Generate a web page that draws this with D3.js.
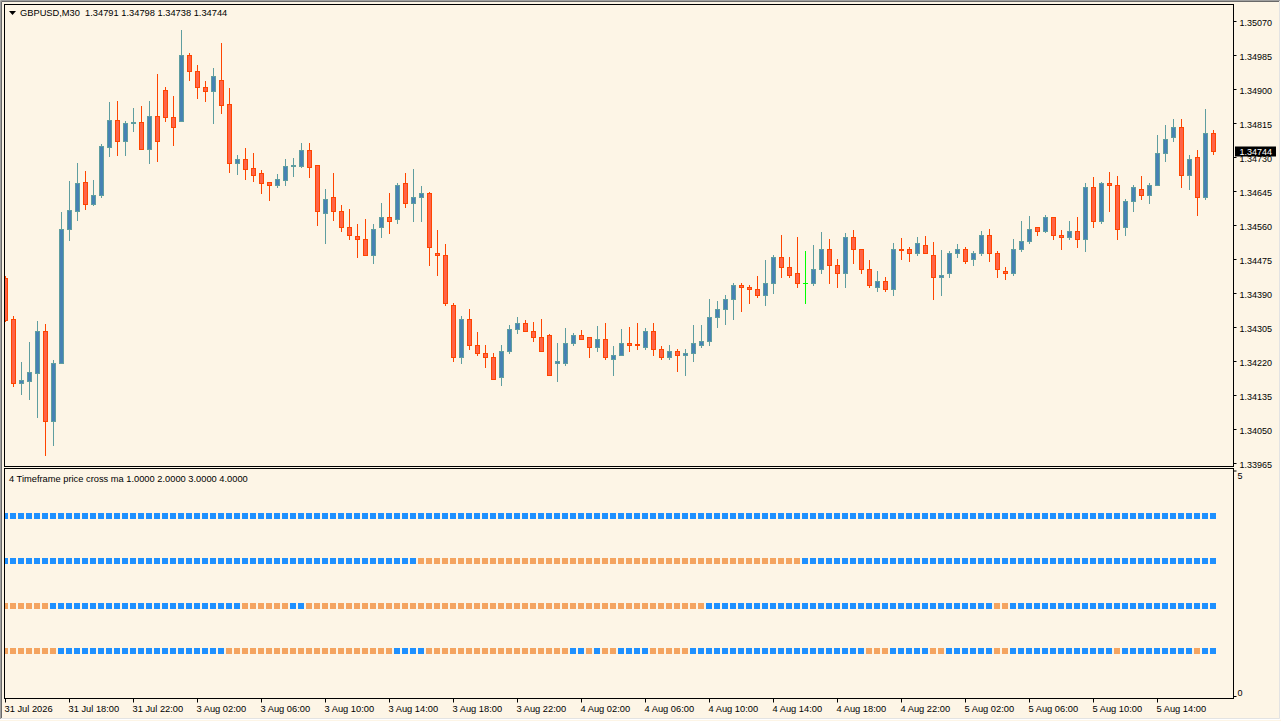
<!DOCTYPE html>
<html>
<head>
<meta charset="utf-8">
<script src="https://cdn.jsdelivr.net/npm/d3@7"></script>
<style>
  html, body { margin: 0; padding: 0; background: #fdf5e6; overflow: hidden; }
  svg { display: block; font-family: 'Liberation Sans', Arial, sans-serif; font-size: 9.3px; }
</style>
</head>
<body>
<svg id="chart" width="1281" height="721"></svg>
<script>
// GBPUSD M30 candles + "4 Timeframe price cross ma" sub window
const symbol = 'GBPUSD,M30';

const open = [
  1.34428, 1.34325, 1.34164, 1.34169, 1.34191, 1.34295, 1.34069, 1.34214,
  1.34550, 1.34596, 1.34668, 1.34613, 1.34634, 1.34756, 1.34823, 1.34769,
  1.34814, 1.34818, 1.34749, 1.34833, 1.34898, 1.34830, 1.34821, 1.34985,
  1.34945, 1.34905, 1.34896, 1.34923, 1.34863, 1.34714, 1.34725, 1.34703,
  1.34690, 1.34668, 1.34661, 1.34673, 1.34709, 1.34708, 1.34748, 1.34710,
  1.34591, 1.34629, 1.34594, 1.34556, 1.34533, 1.34526, 1.34484, 1.34554,
  1.34579, 1.34574, 1.34664, 1.34614, 1.34629, 1.34639, 1.34491, 1.34486,
  1.34361, 1.34231, 1.34326, 1.34259, 1.34241, 1.34229, 1.34179, 1.34246,
  1.34299, 1.34314, 1.34294, 1.34279, 1.34286, 1.34214, 1.34214, 1.34264,
  1.34284, 1.34279, 1.34254, 1.34274, 1.34226, 1.34236, 1.34264, 1.34263,
  1.34256, 1.34294, 1.34249, 1.34231, 1.34246, 1.34236, 1.34239, 1.34261,
  1.34269, 1.34329, 1.34349, 1.34374, 1.34409, 1.34406, 1.34401, 1.34384,
  1.34414, 1.34481, 1.34454, 1.34439, 1.34414, 1.34414, 1.34449, 1.34501,
  1.34459, 1.34441, 1.34529, 1.34499, 1.34449, 1.34406, 1.34419, 1.34399,
  1.34501, 1.34499, 1.34489, 1.34509, 1.34486, 1.34429, 1.34439, 1.34491,
  1.34499, 1.34474, 1.34491, 1.34536, 1.34491, 1.34446, 1.34441, 1.34499,
  1.34519, 1.34554, 1.34544, 1.34579, 1.34534, 1.34529, 1.34544, 1.34524,
  1.34656, 1.34569, 1.34665, 1.34659, 1.34554, 1.34619, 1.34651, 1.34634,
  1.34659, 1.34741, 1.34779, 1.34804, 1.34684, 1.34729, 1.34629, 1.34791
];
const high = [
  1.34433, 1.34333, 1.34218, 1.34268, 1.34320, 1.34313, 1.34223, 1.34593,
  1.34670, 1.34715, 1.34695, 1.34673, 1.34763, 1.34868, 1.34871, 1.34820,
  1.34853, 1.34858, 1.34870, 1.34938, 1.34904, 1.34883, 1.35048, 1.34990,
  1.34960, 1.34920, 1.34953, 1.35016, 1.34903, 1.34735, 1.34753, 1.34740,
  1.34698, 1.34668, 1.34688, 1.34726, 1.34728, 1.34765, 1.34765, 1.34711,
  1.34650, 1.34690, 1.34610, 1.34600, 1.34563, 1.34575, 1.34563, 1.34615,
  1.34640, 1.34664, 1.34690, 1.34700, 1.34658, 1.34643, 1.34548, 1.34513,
  1.34365, 1.34333, 1.34350, 1.34293, 1.34260, 1.34241, 1.34260, 1.34310,
  1.34330, 1.34323, 1.34318, 1.34325, 1.34287, 1.34265, 1.34303, 1.34289,
  1.34298, 1.34281, 1.34308, 1.34315, 1.34258, 1.34300, 1.34305, 1.34315,
  1.34303, 1.34315, 1.34258, 1.34260, 1.34249, 1.34251, 1.34311, 1.34309,
  1.34375, 1.34371, 1.34386, 1.34414, 1.34414, 1.34411, 1.34433, 1.34473,
  1.34485, 1.34535, 1.34480, 1.34530, 1.34495, 1.34510, 1.34543, 1.34525,
  1.34475, 1.34540, 1.34548, 1.34500, 1.34473, 1.34445, 1.34429, 1.34515,
  1.34528, 1.34505, 1.34530, 1.34533, 1.34518, 1.34498, 1.34496, 1.34513,
  1.34505, 1.34496, 1.34545, 1.34550, 1.34496, 1.34454, 1.34525, 1.34570,
  1.34583, 1.34555, 1.34585, 1.34581, 1.34548, 1.34570, 1.34580, 1.34664,
  1.34680, 1.34668, 1.34693, 1.34683, 1.34626, 1.34661, 1.34683, 1.34666,
  1.34784, 1.34811, 1.34825, 1.34825, 1.34735, 1.34748, 1.34850, 1.34798
];
const low = [
  1.34320, 1.34158, 1.34138, 1.34126, 1.34081, 1.33985, 1.34010, 1.34214,
  1.34523, 1.34573, 1.34600, 1.34610, 1.34631, 1.34733, 1.34734, 1.34736,
  1.34796, 1.34749, 1.34714, 1.34721, 1.34819, 1.34761, 1.34819, 1.34923,
  1.34878, 1.34869, 1.34815, 1.34841, 1.34693, 1.34688, 1.34675, 1.34670,
  1.34641, 1.34623, 1.34656, 1.34660, 1.34683, 1.34705, 1.34680, 1.34560,
  1.34516, 1.34573, 1.34546, 1.34524, 1.34479, 1.34484, 1.34464, 1.34531,
  1.34541, 1.34564, 1.34606, 1.34571, 1.34569, 1.34461, 1.34434, 1.34361,
  1.34221, 1.34214, 1.34251, 1.34236, 1.34204, 1.34174, 1.34161, 1.34239,
  1.34291, 1.34294, 1.34271, 1.34244, 1.34184, 1.34171, 1.34209, 1.34261,
  1.34274, 1.34229, 1.34244, 1.34224, 1.34186, 1.34236, 1.34244, 1.34251,
  1.34251, 1.34236, 1.34224, 1.34224, 1.34196, 1.34184, 1.34219, 1.34254,
  1.34259, 1.34306, 1.34313, 1.34326, 1.34346, 1.34364, 1.34379, 1.34360,
  1.34389, 1.34431, 1.34431, 1.34404, 1.34364, 1.34411, 1.34441, 1.34414,
  1.34406, 1.34406, 1.34466, 1.34441, 1.34406, 1.34394, 1.34394, 1.34384,
  1.34476, 1.34471, 1.34486, 1.34489, 1.34374, 1.34386, 1.34429, 1.34481,
  1.34466, 1.34461, 1.34484, 1.34471, 1.34431, 1.34424, 1.34436, 1.34494,
  1.34516, 1.34534, 1.34543, 1.34524, 1.34499, 1.34524, 1.34504, 1.34496,
  1.34556, 1.34564, 1.34594, 1.34524, 1.34534, 1.34596, 1.34624, 1.34616,
  1.34659, 1.34721, 1.34769, 1.34656, 1.34649, 1.34584, 1.34626, 1.34738
];
const close = [
  1.34323, 1.34165, 1.34173, 1.34193, 1.34295, 1.34069, 1.34214, 1.34550,
  1.34598, 1.34665, 1.34613, 1.34635, 1.34758, 1.34823, 1.34769, 1.34815,
  1.34818, 1.34749, 1.34833, 1.34769, 1.34829, 1.34806, 1.34985, 1.34944,
  1.34904, 1.34896, 1.34933, 1.34861, 1.34714, 1.34725, 1.34701, 1.34686,
  1.34666, 1.34661, 1.34675, 1.34708, 1.34710, 1.34748, 1.34706, 1.34594,
  1.34626, 1.34596, 1.34554, 1.34534, 1.34526, 1.34484, 1.34551, 1.34581,
  1.34571, 1.34661, 1.34614, 1.34629, 1.34641, 1.34506, 1.34486, 1.34364,
  1.34231, 1.34324, 1.34259, 1.34239, 1.34229, 1.34176, 1.34246, 1.34299,
  1.34316, 1.34294, 1.34279, 1.34244, 1.34186, 1.34219, 1.34266, 1.34284,
  1.34276, 1.34254, 1.34274, 1.34229, 1.34236, 1.34264, 1.34261, 1.34259,
  1.34294, 1.34249, 1.34231, 1.34246, 1.34236, 1.34239, 1.34264, 1.34269,
  1.34329, 1.34349, 1.34376, 1.34409, 1.34406, 1.34401, 1.34384, 1.34414,
  1.34481, 1.34454, 1.34436, 1.34414, 1.34414, 1.34451, 1.34501, 1.34459,
  1.34441, 1.34529, 1.34499, 1.34449, 1.34409, 1.34419, 1.34399, 1.34501,
  1.34499, 1.34489, 1.34514, 1.34491, 1.34431, 1.34436, 1.34491, 1.34499,
  1.34471, 1.34489, 1.34536, 1.34491, 1.34449, 1.34441, 1.34499, 1.34519,
  1.34551, 1.34544, 1.34579, 1.34534, 1.34529, 1.34544, 1.34524, 1.34656,
  1.34569, 1.34665, 1.34661, 1.34551, 1.34619, 1.34654, 1.34634, 1.34659,
  1.34739, 1.34776, 1.34804, 1.34684, 1.34726, 1.34629, 1.34789, 1.34744
];

// sub window: 1 = price above ma (blue), 0 = below (orange); tfN drawn at level N
const tf1 = [
  0,0,0,0,0,0,0,1, 1,1,1,1,1,1,1,1, 1,1,1,1,1,1,1,1, 1,1,1,1,0,0,0,0,
  0,0,0,0,0,0,0,0, 0,0,0,0,0,0,0,0, 0,1,1,1,1,0,0,0, 0,0,0,0,0,0,0,0,
  0,0,0,0,0,0,0,1, 1,0,1,0,0,1,1,1, 1,0,0,0,0,0,1,1, 1,1,1,1,1,1,1,1,
  1,1,1,1,1,1,1,1, 1,1,1,1,0,0,0,1, 1,1,1,1,0,0,1,1, 1,1,1,1,0,0,1,1,
  1,1,1,1,1,1,1,1, 1,1,1,0,1,1,1,1, 1,1,1,1,1,0,1,1
];
const tf2 = [
  0,0,0,0,0,0,1,1, 1,1,1,1,1,1,1,1, 1,1,1,1,1,1,1,1, 1,1,1,1,1,1,0,0,
  0,0,0,0,1,1,0,0, 0,0,0,0,0,0,0,0, 0,0,0,0,0,0,0,0, 0,0,0,0,0,0,0,0,
  0,0,0,0,0,0,0,0, 0,0,0,0,0,0,0,0, 0,0,0,0,0,0,0,0, 1,1,1,1,1,1,1,1,
  1,1,1,1,1,1,1,1, 1,1,1,1,1,1,1,1, 1,1,1,1,1,1,1,1, 1,1,1,1,0,0,1,1,
  1,1,1,1,1,1,1,1, 1,1,1,1,1,1,1,1, 1,1,1,1,1,1,1,1
];
const tf3 = [
  1,1,1,1,1,1,1,1, 1,1,1,1,1,1,1,1, 1,1,1,1,1,1,1,1, 1,1,1,1,1,1,1,1,
  1,1,1,1,1,1,1,1, 1,1,1,1,1,1,1,1, 1,1,1,1,0,0,0,0, 0,0,0,0,0,0,0,0,
  0,0,0,0,0,0,0,0, 0,0,0,0,0,0,0,0, 0,0,0,0,0,0,0,0, 0,0,0,0,0,0,0,0,
  0,0,0,0,1,1,1,1, 1,1,1,1,1,1,1,1, 1,1,1,1,1,1,1,1, 1,1,1,1,1,1,1,1,
  1,1,1,1,1,1,1,1, 1,1,1,1,1,1,1,1, 1,1,1,1,1,1,1,1
];
const tf4 = [
  1,1,1,1,1,1,1,1, 1,1,1,1,1,1,1,1, 1,1,1,1,1,1,1,1, 1,1,1,1,1,1,1,1,
  1,1,1,1,1,1,1,1, 1,1,1,1,1,1,1,1, 1,1,1,1,1,1,1,1, 1,1,1,1,1,1,1,1,
  1,1,1,1,1,1,1,1, 1,1,1,1,1,1,1,1, 1,1,1,1,1,1,1,1, 1,1,1,1,1,1,1,1,
  1,1,1,1,1,1,1,1, 1,1,1,1,1,1,1,1, 1,1,1,1,1,1,1,1, 1,1,1,1,1,1,1,1,
  1,1,1,1,1,1,1,1, 1,1,1,1,1,1,1,1, 1,1,1,1,1,1,1,1
];

const priceTicks = [1.35070, 1.34985, 1.34900, 1.34815, 1.34730, 1.34645, 1.34560,
  1.34475, 1.34390, 1.34305, 1.34220, 1.34135, 1.34050, 1.33965];
const timeTickIdx = [0, 8, 16, 24, 32, 40, 48, 56, 64, 72, 80, 88, 96, 104, 112, 120, 128, 136, 144];
const timeLabels = ['31 Jul 2026', '31 Jul 18:00', '31 Jul 22:00', '3 Aug 02:00', '3 Aug 06:00',
  '3 Aug 10:00', '3 Aug 14:00', '3 Aug 18:00', '3 Aug 22:00', '4 Aug 02:00', '4 Aug 06:00',
  '4 Aug 10:00', '4 Aug 14:00', '4 Aug 18:00', '4 Aug 22:00', '5 Aug 02:00', '5 Aug 06:00',
  '5 Aug 10:00', '5 Aug 14:00'];
const subTitle = '4 Timeframe price cross ma 1.0000 2.0000 3.0000 4.0000';

const upFill = '#4682b4', upLine = '#5f9ea0',
  dnFill = '#ff6347', dnLine = '#ff4500',
  dojiCol = '#00ff00', maUp = '#1e90ff', maDn = '#f4a460';

const svg = d3.select('#chart');

// frames (pixel edges)
const L = 4.5, R = 1233.5, mainTop = 4.5, mainBot = 466.5, subTop = 468.5, subBot = 698.5;

const x = d3.scaleBand().domain(d3.range(open.length)).range([1.5, 1217.5]);
const cx = i => x(i) + x.bandwidth() / 2;
const y = d3.scaleLinear().domain([1.339575, 1.351125]).range([466, 4]);
const ys = d3.scaleLinear().domain([0, 5]).range([696, 470.5]);

const defs = svg.append('defs');
defs.append('clipPath').attr('id', 'clipMain').append('rect')
  .attr('x', 5).attr('y', 5).attr('width', R - 5.5).attr('height', mainBot - 5.5);
defs.append('clipPath').attr('id', 'clipSub').append('rect')
  .attr('x', 5).attr('y', subTop + 0.5).attr('width', R - 5.5).attr('height', subBot - subTop - 1);

// window edge
svg.append('rect').attr('width', 1281).attr('height', 721).attr('fill', '#fdf5e6');
svg.append('path').attr('d', 'M0.5,720V0.5H1280').attr('fill', 'none').attr('stroke', '#a0a0a0');
svg.append('path').attr('d', 'M1.5,719V1.5H1279').attr('fill', 'none').attr('stroke', '#696969');
svg.append('path').attr('d', 'M0,719.5H1280.5V0').attr('fill', 'none').attr('stroke', '#ffffff');
svg.append('path').attr('d', 'M1,718.5H1279.5V1').attr('fill', 'none').attr('stroke', '#e3e3e3');

// candles
const candles = d3.range(open.length).map(i => ({ i, o: open[i], h: high[i], l: low[i], c: close[i] }));
const lineCol = d => d.c > d.o ? upLine : (d.c < d.o ? dnLine : dojiCol);

const cg = svg.append('g').attr('clip-path', 'url(#clipMain)');
const cs = cg.selectAll('g.candle').data(candles).join('g').attr('class', 'candle');

cs.append('line')
  .attr('x1', d => cx(d.i)).attr('x2', d => cx(d.i))
  .attr('y1', d => Math.round(y(d.h)))
  .attr('y2', d => Math.round(y(d.l)) + 1)
  .attr('stroke', lineCol);

cs.filter(d => d.o !== d.c).append('rect')
  .attr('x', d => cx(d.i) - 2)
  .attr('width', 4)
  .attr('y', d => Math.round(y(Math.max(d.o, d.c))) + 0.5)
  .attr('height', d => Math.max(1, Math.round(y(Math.min(d.o, d.c))) - Math.round(y(Math.max(d.o, d.c)))))
  .attr('fill', d => d.c > d.o ? upFill : dnFill)
  .attr('stroke', lineCol);

cs.filter(d => d.o === d.c).append('line')
  .attr('x1', d => cx(d.i) - 2.5).attr('x2', d => cx(d.i) + 2.5)
  .attr('y1', d => Math.round(y(d.o)) + 0.5).attr('y2', d => Math.round(y(d.o)) + 0.5)
  .attr('stroke', dojiCol);

// sub window squares
const sg = svg.append('g').attr('clip-path', 'url(#clipSub)').attr('shape-rendering', 'crispEdges');
[tf1, tf2, tf3, tf4].forEach((arr, k) => {
  const level = k + 1;
  sg.append('g').selectAll('rect').data(arr).join('rect')
    .attr('x', (d, i) => cx(i) - 3.5)
    .attr('y', Math.round(ys(level) - 3))
    .attr('width', 6).attr('height', 6)
    .attr('fill', d => d ? maUp : maDn);
});

// frames
svg.append('rect').attr('x', L).attr('y', mainTop).attr('width', R - L).attr('height', mainBot - mainTop)
  .attr('fill', 'none').attr('stroke', '#000');
svg.append('rect').attr('x', L).attr('y', subTop).attr('width', R - L).attr('height', subBot - subTop)
  .attr('fill', 'none').attr('stroke', '#000');

// price axis
const pa = svg.append('g')
  .attr('transform', `translate(${R},0)`)
  .call(d3.axisRight(y).tickValues(priceTicks).tickSize(3).tickPadding(3).tickFormat(d3.format('.5f')));
pa.select('.domain').remove();
pa.selectAll('text').attr('dy', '0.45em').attr('font-size', 9).attr('font-family', null).attr('fill', '#000');
pa.selectAll('line').attr('stroke', '#000');

// sub axis
const sa = svg.append('g')
  .attr('transform', `translate(${R},0)`)
  .call(d3.axisRight(ys).tickValues([5, 0]).tickSize(3).tickPadding(1).tickFormat(d3.format('d')));
sa.select('.domain').remove();
sa.selectAll('text').attr('dy', d => d === 5 ? '0.87em' : '-0.1em')
  .attr('font-size', 9).attr('font-family', null).attr('fill', '#000');
sa.selectAll('line').attr('stroke', '#000');

// time axis
const ta = svg.append('g')
  .attr('transform', `translate(0,${subBot})`)
  .call(d3.axisBottom(x).tickValues(timeTickIdx).tickSize(4).tickPadding(3)
    .tickFormat(d => timeLabels[timeTickIdx.indexOf(d)]));
ta.select('.domain').remove();
ta.selectAll('text').attr('text-anchor', 'start').attr('x', -1)
  .attr('font-size', 9.3).attr('font-family', null).attr('fill', '#000');
ta.selectAll('line').attr('stroke', '#000');

// current price label (drawn over the axis label, as in the terminal)
const last = candles[candles.length - 1];
const yc = Math.round(y(last.c));
svg.append('rect').attr('x', R + 1.5).attr('y', yc - 4.5).attr('width', 41).attr('height', 10).attr('fill', '#000');
svg.append('text').attr('x', R + 6).attr('y', yc + 4).attr('fill', '#fff').attr('font-size', 9)
  .text(d3.format('.5f')(last.c));

// header
svg.append('path').attr('d', 'M9,11H16L12.5,15Z').attr('fill', '#000');
svg.append('text').attr('x', 20).attr('y', 16).style('white-space', 'pre').attr('fill', '#000')
  .text(`${symbol}  ${[last.o, last.h, last.l, last.c].map(d3.format('.5f')).join(' ')}`);

svg.append('text').attr('x', 9).attr('y', 481.5).attr('fill', '#000').text(subTitle);
</script>
</body>
</html>
